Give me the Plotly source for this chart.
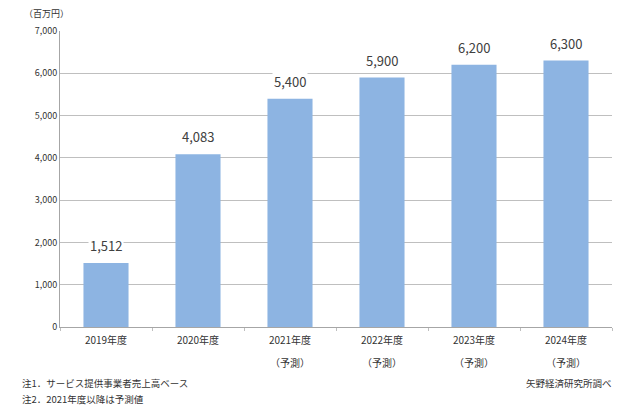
import plotly.graph_objects as go

categories = ["2019年度", "2020年度", "2021年度", "2022年度", "2023年度", "2024年度"]
forecast = [False, False, True, True, True, True]
values = [1512, 4083, 5400, 5900, 6200, 6300]
y_ticks = [0, 1000, 2000, 3000, 4000, 5000, 6000, 7000]
y_tick_labels = ["0", "1,000", "2,000", "3,000", "4,000", "5,000", "6,000", "7,000"]

FONT = "Noto Sans CJK JP"
BAR = "#8DB4E2"
TXT = "#333333"

# page has an 8px body margin; figure is sized to fit the 638x410 window
W, H = 630, 402
L, R, T, B = 52, 26, 23, 83
PW, PH = W - L - R, H - T - B


def px_x(x):  # window x -> paper x
    return (x - 8 - L) / PW


def px_y(y):  # window y -> paper y
    return (H - B - (y - 8)) / PH


fig = go.Figure()
fig.add_trace(go.Bar(
    x=categories, y=values, marker=dict(color=BAR, line=dict(width=0)),
    width=0.49, hoverinfo="skip",
))

for c, v in zip(categories, values):
    fig.add_annotation(
        x=c, y=v, text=f"{v:,}", showarrow=False, yanchor="bottom", yshift=6,
        bgcolor="white", font=dict(family=FONT, size=13, color="#404040"),
        borderpad=1,
    )

for c, f in zip(categories, forecast):
    if f:
        fig.add_annotation(
            x=c, y=px_y(362), yref="paper", text="（予測）", showarrow=False,
            yanchor="middle", font=dict(family=FONT, size=10, color=TXT),
        )

fig.add_annotation(x=px_x(22), y=px_y(14), xref="paper", yref="paper", xanchor="left", yanchor="middle",
                   text="（百万円）", showarrow=False, font=dict(family=FONT, size=9, color=TXT))
fig.add_annotation(x=px_x(20), y=px_y(383), xref="paper", yref="paper", xanchor="left", yanchor="middle",
                   text="注1．サービス提供事業者売上高ベース", showarrow=False,
                   font=dict(family=FONT, size=9.5, color=TXT))
fig.add_annotation(x=px_x(20), y=px_y(399), xref="paper", yref="paper", xanchor="left", yanchor="middle",
                   text="注2．2021年度以降は予測値", showarrow=False,
                   font=dict(family=FONT, size=9.5, color=TXT))
fig.add_annotation(x=px_x(614), y=px_y(383), xref="paper", yref="paper", xanchor="right", yanchor="middle",
                   text="矢野経済研究所調べ", showarrow=False,
                   font=dict(family=FONT, size=9.5, color=TXT))

fig.update_layout(
    width=W, height=H,
    margin=dict(l=L, r=R, t=T, b=B, autoexpand=False),
    paper_bgcolor="white", plot_bgcolor="white",
    showlegend=False,
    font=dict(family=FONT, color=TXT),
    xaxis=dict(
        type="category", showline=True, linecolor="#A6A6A6", linewidth=1,
        ticks="outside", tickson="boundaries", ticklen=3, tickcolor="#BFBFBF",
        ticklabelstandoff=4,
        tickfont=dict(family=FONT, size=10, color=TXT),
        showgrid=False, automargin=False,
    ),
    yaxis=dict(
        range=[0, 7000], tickvals=y_ticks, ticktext=y_tick_labels,
        showline=True, linecolor="#A6A6A6", linewidth=1,
        showgrid=True, gridcolor="#BFBFBF", gridwidth=1,
        tickfont=dict(family=FONT, size=9, color=TXT), ticks="", ticklen=0,
        zeroline=False, automargin=False,
    ),
)

fig.write_html("out.html")
